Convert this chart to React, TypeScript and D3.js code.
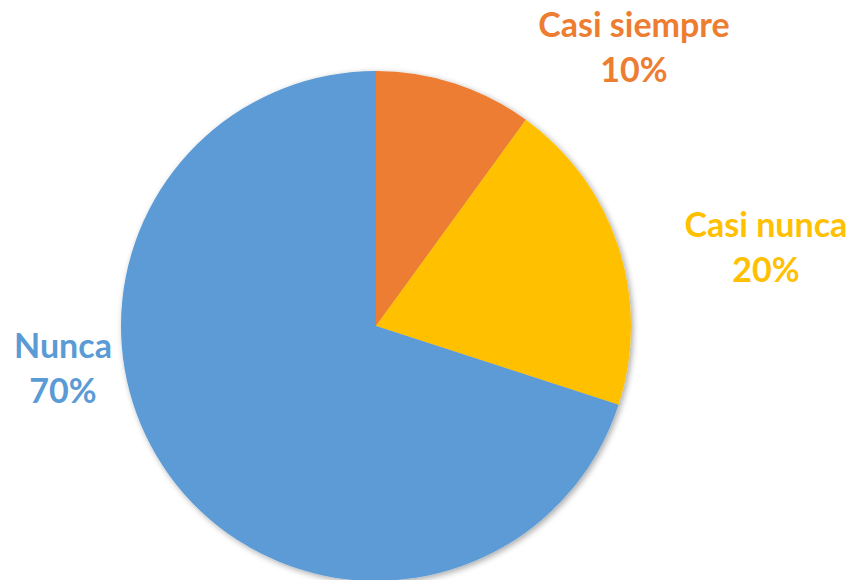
import React from "react";
import * as d3 from "d3";

const categories = ["Casi siempre", "Casi nunca", "Nunca"];
const values = [10, 20, 70];
const colors = ["#ED7D31", "#FFC000", "#5B9BD5"];
const percentLabels = ["10%", "20%", "70%"];

const W = 853;
const H = 580;
const cx = 376;
const cy = 326;
const R = 255;

// label anchor positions (centre of the two-line label)
const labelPos: [number, number][] = [
  [634, 37],
  [766, 237],
  [63, 358],
];

export default function App() {
  const pie = d3.pie<number>().sort(null).value((d) => d)(values);
  const arc = d3.arc<d3.PieArcDatum<number>>().innerRadius(0).outerRadius(R);
  return (
    <svg
      width={W}
      height={H}
      style={{ position: "absolute", left: 0, top: 0, background: "#fff" }}
    >
      <defs>
        <filter id="sh" x="-20%" y="-20%" width="140%" height="140%">
          <feGaussianBlur in="SourceAlpha" stdDeviation="3" />
          <feOffset dx="2" dy="2" result="b" />
          <feComponentTransfer>
            <feFuncA type="linear" slope="0.35" />
          </feComponentTransfer>
          <feMerge>
            <feMergeNode />
            <feMergeNode in="SourceGraphic" />
          </feMerge>
        </filter>
      </defs>
      <g transform={`translate(${cx},${cy})`} filter="url(#sh)">
        {pie.map((p, i) => (
          <path key={i} d={arc(p) || ""} fill={colors[i]} />
        ))}
      </g>
      {categories.map((c, i) => (
        <text
          key={c}
          x={labelPos[i][0]}
          y={labelPos[i][1]}
          textAnchor="middle"
          fill={colors[i]}
          style={{ fontFamily: "Lato, 'Open Sans', sans-serif", fontWeight: 700, fontSize: 34 }}
        >
          <tspan x={labelPos[i][0]}>{c}</tspan>
          <tspan x={labelPos[i][0]} dy={45}>{percentLabels[i]}</tspan>
        </text>
      ))}
    </svg>
  );
}
